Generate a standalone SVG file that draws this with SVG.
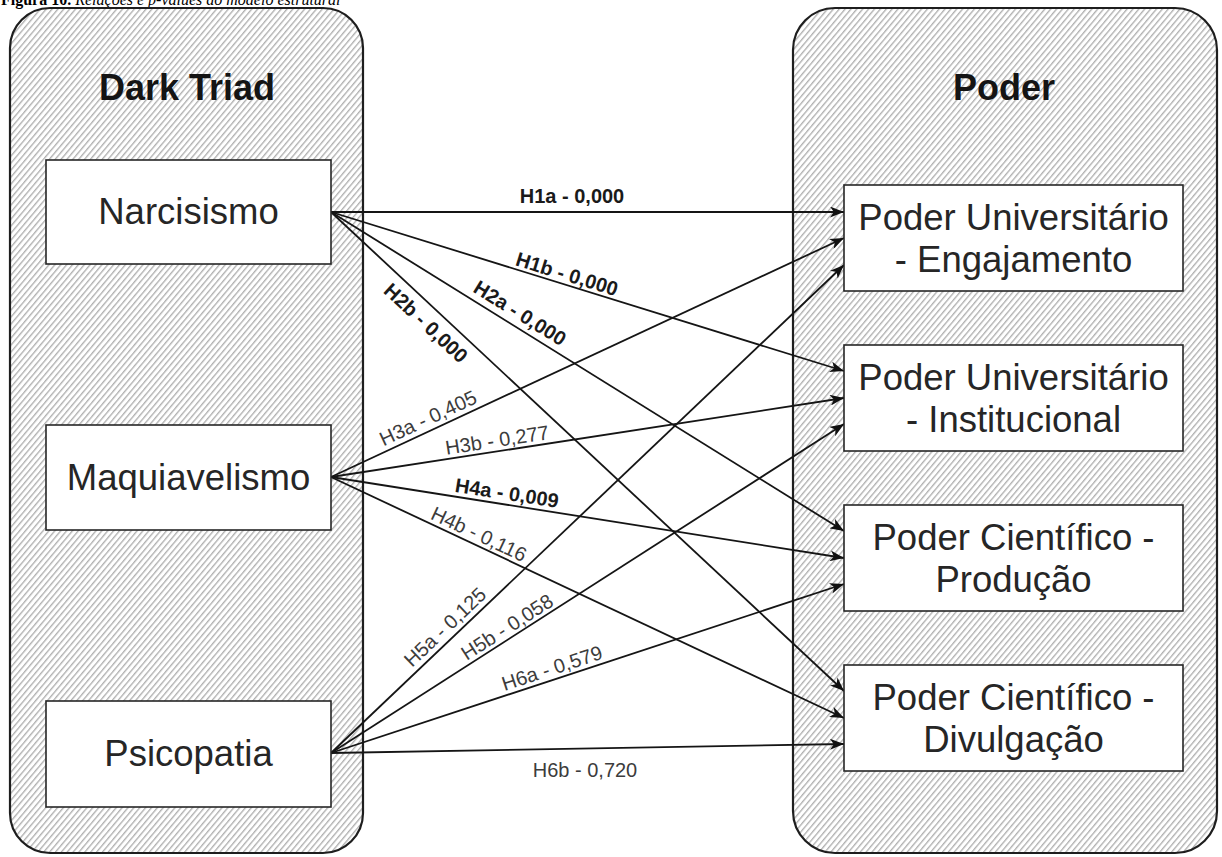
<svg xmlns="http://www.w3.org/2000/svg" width="1222" height="857" viewBox="0 0 1222 857">
  <defs>
    <!-- diagonal hatch fill of the two group containers -->
    <pattern id="hatch" width="4.5" height="10" patternUnits="userSpaceOnUse" patternTransform="rotate(40)">
      <rect width="4.5" height="10" fill="#ffffff"/>
      <line x1="0.7" y1="0" x2="0.7" y2="10" stroke="#a6a6a6" stroke-width="1.2"/>
    </pattern>
    <marker id="arrow" viewBox="0 0 14 11" refX="14" refY="5.5" markerWidth="14" markerHeight="11" markerUnits="userSpaceOnUse" orient="auto">
      <path d="M0,0 L14,5.5 L0,11 L3.8,5.5 Z" fill="#111"/>
    </marker>
    <style>
      .group { fill: url(#hatch); stroke: #1e1e1e; stroke-width: 2.2; }
      .box { fill: #ffffff; stroke: #262626; stroke-width: 1.6; }
      .title { font-family: "Liberation Sans", Arial, sans-serif; font-size: 36px; font-weight: bold; fill: #141414; text-anchor: middle; }
      .node { font-family: "Liberation Sans", Arial, sans-serif; font-size: 36.5px; fill: #262626; text-anchor: middle; }
      .edge { stroke: #151515; stroke-width: 1.8; fill: none; marker-end: url(#arrow); }
      .lbl { font-family: "Liberation Sans", Arial, sans-serif; font-size: 20px; text-anchor: middle; fill: #3c3c3c; }
      .sig { font-weight: bold; fill: #1a1a1a; }
      .caption { font-family: "Liberation Serif", "Times New Roman", serif; font-size: 16px; fill: #000; }
    </style>
  </defs>

  <rect width="1222" height="857" fill="#ffffff"/>

  <!-- figure caption, clipped by the top edge -->
  <text class="caption" x="1" y="5"><tspan font-weight="bold">Figura 10.</tspan><tspan font-style="italic"> Relações e p-values do modelo estrutural</tspan></text>

  <!-- group containers -->
  <g id="group-dark-triad">
    <rect class="group" x="10" y="8" width="353" height="845" rx="40" ry="40"/>
    <text class="title" x="187" y="100">Dark Triad</text>
  </g>
  <g id="group-poder">
    <rect class="group" x="793" y="8" width="424" height="845" rx="42" ry="42"/>
    <text class="title" x="1004" y="100">Poder</text>
  </g>

  <!-- connectors -->
  <g id="connectors">
    <line class="edge" x1="331" y1="212" x2="844" y2="212"/>
    <line class="edge" x1="331" y1="212" x2="844" y2="371"/>
    <line class="edge" x1="331" y1="212" x2="844" y2="531"/>
    <line class="edge" x1="331" y1="212" x2="844" y2="691"/>
    <line class="edge" x1="331" y1="477" x2="844" y2="238"/>
    <line class="edge" x1="331" y1="477" x2="844" y2="398"/>
    <line class="edge" x1="331" y1="477" x2="844" y2="558"/>
    <line class="edge" x1="331" y1="477" x2="844" y2="718"/>
    <line class="edge" x1="331" y1="753" x2="844" y2="265"/>
    <line class="edge" x1="331" y1="753" x2="844" y2="424"/>
    <line class="edge" x1="331" y1="753" x2="844" y2="584"/>
    <line class="edge" x1="331" y1="753" x2="844" y2="744"/>

    <!-- path coefficients -->
    <text class="lbl sig" x="572" y="203">H1a - 0,000</text>
    <text class="lbl sig" transform="translate(567,274) rotate(17.2)" y="7">H1b - 0,000</text>
    <text class="lbl sig" transform="translate(520,313) rotate(31.9)" y="7">H2a - 0,000</text>
    <text class="lbl sig" transform="translate(426,323) rotate(43)" y="7">H2b - 0,000</text>
    <text class="lbl" transform="translate(428,418) rotate(-25)" y="7">H3a - 0,405</text>
    <text class="lbl" transform="translate(497,440) rotate(-8.75)" y="7">H3b - 0,277</text>
    <text class="lbl sig" transform="translate(507,493) rotate(9)" y="7">H4a - 0,009</text>
    <text class="lbl" transform="translate(479,534) rotate(25.2)" y="7">H4b - 0,116</text>
    <text class="lbl" transform="translate(445,627) rotate(-43.6)" y="7">H5a - 0,125</text>
    <text class="lbl" transform="translate(507,627) rotate(-32.7)" y="7">H5b - 0,058</text>
    <text class="lbl" transform="translate(552,668) rotate(-18.2)" y="7">H6a - 0,579</text>
    <text class="lbl" x="585" y="777">H6b - 0,720</text>
  </g>

  <!-- Dark Triad traits -->
  <g id="narcisismo">
    <rect class="box" x="46" y="160" width="285" height="104"/>
    <text class="node" x="188.5" y="224">Narcisismo</text>
  </g>
  <g id="maquiavelismo">
    <rect class="box" x="46" y="425" width="285" height="105"/>
    <text class="node" x="188.5" y="490">Maquiavelismo</text>
  </g>
  <g id="psicopatia">
    <rect class="box" x="46" y="701" width="285" height="106"/>
    <text class="node" x="188.5" y="766">Psicopatia</text>
  </g>

  <!-- power dimensions -->
  <g id="poder-engajamento">
    <rect class="box" x="844" y="185" width="339" height="106"/>
    <text class="node" x="1013.5" y="230">Poder Universitário</text>
    <text class="node" x="1013.5" y="272">- Engajamento</text>
  </g>
  <g id="poder-institucional">
    <rect class="box" x="844" y="345" width="339" height="106"/>
    <text class="node" x="1013.5" y="390">Poder Universitário</text>
    <text class="node" x="1013.5" y="432">- Institucional</text>
  </g>
  <g id="poder-producao">
    <rect class="box" x="844" y="505" width="339" height="106"/>
    <text class="node" x="1013.5" y="550">Poder Científico -</text>
    <text class="node" x="1013.5" y="592">Produção</text>
  </g>
  <g id="poder-divulgacao">
    <rect class="box" x="844" y="665" width="339" height="106"/>
    <text class="node" x="1013.5" y="710">Poder Científico -</text>
    <text class="node" x="1013.5" y="752">Divulgação</text>
  </g>
</svg>
